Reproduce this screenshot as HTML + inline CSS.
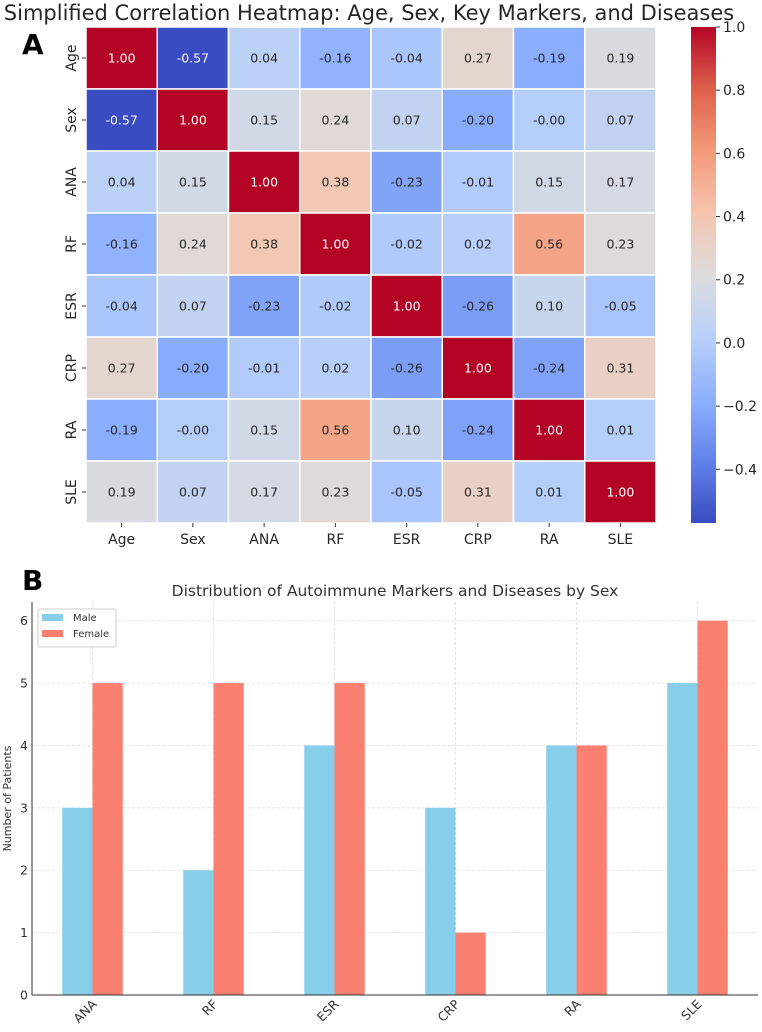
<!DOCTYPE html>
<html><head><meta charset="utf-8"><style>
body{margin:0;background:#fff;font-family:"DejaVu Sans","Liberation Sans",sans-serif;}
svg text{font-family:"DejaVu Sans","Liberation Sans",sans-serif;}
</style></head><body>
<svg id="chart" width="762" height="1028" xmlns="http://www.w3.org/2000/svg"></svg>
<script>
const labels=["Age","Sex","ANA","RF","ESR","CRP","RA","SLE"];
const corr=[
[1.00,-0.57,0.04,-0.16,-0.04,0.27,-0.19,0.19],
[-0.57,1.00,0.15,0.24,0.07,-0.20,-0.00,0.07],
[0.04,0.15,1.00,0.38,-0.23,-0.01,0.15,0.17],
[-0.16,0.24,0.38,1.00,-0.02,0.02,0.56,0.23],
[-0.04,0.07,-0.23,-0.02,1.00,-0.26,0.10,-0.05],
[0.27,-0.20,-0.01,0.02,-0.26,1.00,-0.24,0.31],
[-0.19,-0.00,0.15,0.56,0.10,-0.24,1.00,0.01],
[0.19,0.07,0.17,0.23,-0.05,0.31,0.01,1.00]];
const cbTicks=[1.0,0.8,0.6,0.4,0.2,0.0,-0.2,-0.4];
const cats=["ANA","RF","ESR","CRP","RA","SLE"];
const male=[3,2,4,3,4,5];
const female=[5,5,5,1,4,6];
const yTicks=[0,1,2,3,4,5,6];

const svg=document.getElementById('chart');
const NS="http://www.w3.org/2000/svg";
function mk(tag,attrs,parent){const e=document.createElementNS(NS,tag);for(const k in attrs)e.setAttribute(k,attrs[k]);(parent||svg).appendChild(e);return e;}
function txt(s,attrs,parent){const e=mk('text',attrs,parent);e.textContent=s;return e;}
const cw=[[58,76,193],[98,130,234],[141,176,254],[184,208,249],[221,220,220],[245,196,173],[244,154,123],[222,96,76],[180,4,38]];
function cmap(t){t=Math.max(0,Math.min(1,t));const p=t*8,i=Math.min(7,Math.floor(p)),f=p-i;const a=cw[i],b=cw[i+1];return [0,1,2].map(k=>Math.round(a[k]+(b[k]-a[k])*f));}
const vmin=-0.57,vmax=1.0;
function fmt(v){return (v<0||Object.is(v,-0))?'-'+Math.abs(v).toFixed(2):v.toFixed(2);}

let t=txt("Simplified Correlation Heatmap: Age, Sex, Key Markers, and Diseases",{x:369,y:20,'font-size':21,'text-anchor':'middle',fill:'#262626'});

t=txt("A",{x:22,y:54,'font-size':28,'font-weight':'bold',fill:'#000'});


const hx0=86,hy0=27,cW=71.25,cH=62;
const gH=mk('g',{});
corr.forEach((row,r)=>row.forEach((v,c)=>{
  const col=cmap((v-vmin)/(vmax-vmin));
  const rect=mk('rect',{x:hx0+c*cW,y:hy0+r*cH,width:cW,height:cH,fill:`rgb(${col})`,stroke:'#fff','stroke-width':1.5},gH);
  
  
  const lum=(0.299*col[0]+0.587*col[1]+0.114*col[2]);
  const tt=txt(fmt(v),{x:hx0+c*cW+cW/2,y:hy0+r*cH+cH/2+4.5,'font-size':12.5,'text-anchor':'middle',fill:lum<150?'#fff':'#262626'},gH);
  
  
}));
labels.forEach((l,i)=>{
  let e=txt(l,{x:hx0+i*cW+cW/2,y:544,'font-size':14,'text-anchor':'middle',fill:'#262626'});
  
  
  mk('line',{x1:hx0+i*cW+cW/2,x2:hx0+i*cW+cW/2,y1:523,y2:527,stroke:'#333'});
  const cy=hy0+i*cH+cH/2;
  e=txt(l,{x:0,y:0,'font-size':14,'text-anchor':'middle',fill:'#262626',transform:`translate(76,${cy}) rotate(-90)`});
  
  
  mk('line',{x1:82,x2:86,y1:cy,y2:cy,stroke:'#333'});
});
const cbx=691,cby0=27,cbh=496,cbw=25;
const defs=mk('defs',{});
const grad=mk('linearGradient',{id:'cbg',x1:0,y1:1,x2:0,y2:0},defs);
for(let i=0;i<=16;i++){const c=cmap(i/16);mk('stop',{offset:i/16,'stop-color':`rgb(${c})`},grad);}
const cb=mk('rect',{x:cbx,y:cby0,width:cbw,height:cbh,fill:'url(#cbg)'});

const cbY=v=>cby0+(vmax-v)/(vmax-vmin)*cbh;
cbTicks.forEach(v=>{
  const y=cbY(v);
  mk('line',{x1:cbx+cbw,x2:cbx+cbw+4,y1:y,y2:y,stroke:'#333'});
  const e=txt(v<0?'\u2212'+Math.abs(v).toFixed(1):v.toFixed(1),{x:cbx+cbw+7,y:y+5,'font-size':14,fill:'#262626'});
  
  
});

t=txt("B",{x:22,y:590,'font-size':28,'font-weight':'bold',fill:'#000'});

t=txt("Distribution of Autoimmune Markers and Diseases by Sex",{x:395,y:596,'font-size':15.5,'text-anchor':'middle',fill:'#333'});

const px0=32,px1=758,py0=995,pyTop=602,ymax=6.3;
const X=v=>px0+(v+0.5)/6*(px1-px0);
const Y=v=>py0-v/ymax*(py0-pyTop);
const gB=mk('g',{});
yTicks.forEach(v=>{
  if(v>0)mk('line',{x1:px0,x2:px1,y1:Y(v),y2:Y(v),stroke:'#ddd','stroke-dasharray':'3,2','stroke-width':0.8},gB);
  const e=txt(String(v),{x:px0-4,y:Y(v)+4.5,'font-size':12.5,'text-anchor':'end',fill:'#333'},gB);
  
  
});
cats.forEach((c,i)=>{
  mk('line',{x1:X(i),x2:X(i),y1:pyTop,y2:py0,stroke:'#ddd','stroke-dasharray':'3,2','stroke-width':0.8},gB);
});
const bw=0.25/6*(px1-px0);
cats.forEach((c,i)=>{
  let r=mk('rect',{x:X(i)-bw,y:Y(male[i]),width:bw,height:Y(0)-Y(male[i]),fill:'#87CEEB'},gB);
  
  
  r=mk('rect',{x:X(i),y:Y(female[i]),width:bw,height:Y(0)-Y(female[i]),fill:'#FA8072'},gB);
  
  
  const e=txt(c,{x:0,y:0,'font-size':12.5,'text-anchor':'end',fill:'#333',transform:`translate(${X(i)+5},${py0+10}) rotate(-45)`},gB);
  
  
});
mk('line',{x1:px0,x2:px0,y1:pyTop,y2:py0,stroke:'#333','stroke-width':1},gB);
mk('line',{x1:px0,x2:px1,y1:py0,y2:py0,stroke:'#333','stroke-width':1},gB);
t=txt("Number of Patients",{x:0,y:0,'font-size':11,'text-anchor':'middle',fill:'#333',transform:`translate(11,${(py0+pyTop)/2}) rotate(-90)`},gB);

const lg=mk('g',{});
mk('rect',{x:38,y:609,width:78,height:38,fill:'#fff',stroke:'#ccc',rx:2},lg);
mk('rect',{x:42,y:614,width:21,height:7,fill:'#87CEEB'},lg);
t=txt("Male",{x:73,y:621,'font-size':10,fill:'#333'},lg);
mk('rect',{x:42,y:630,width:21,height:7,fill:'#FA8072'},lg);
t=txt("Female",{x:73,y:637,'font-size':10,fill:'#333'},lg);
</script>
</body></html>
